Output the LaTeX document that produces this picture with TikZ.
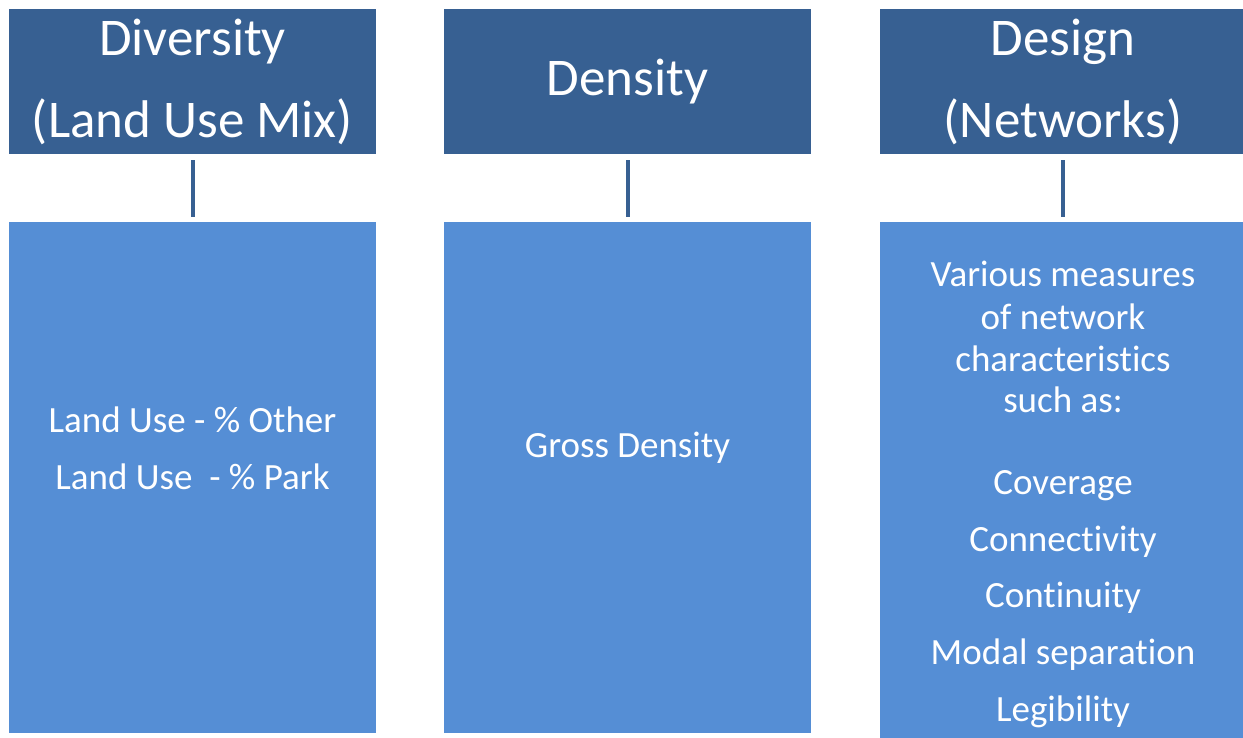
\documentclass[tikz,border=0pt]{standalone}
\usepackage{fontspec}
\setmainfont[Ligatures=NoCommon]{Carlito}
\definecolor{headblue}{RGB}{55,96,146}
\definecolor{bodyblue}{RGB}{85,142,213}
\begin{document}
\begin{tikzpicture}[x=1pt,y=-1pt,
  headbox/.style={fill=headblue,draw=none,inner sep=0pt,anchor=north west},
  bodybox/.style={fill=bodyblue,draw=none,inner sep=0pt,anchor=north west},
  headtxt/.style={text=white,font=\fontsize{53}{64}\selectfont,anchor=base,inner sep=0pt},
  bodytxt/.style={text=white,font=\fontsize{37}{44}\selectfont,anchor=base,inner sep=0pt},
  link/.style={draw=headblue,line width=4pt,shorten <=6pt,shorten >=5pt}]
\useasboundingbox (0,0) rectangle (1243,737);

% header boxes
\node[headbox,minimum width=367pt,minimum height=145pt] (h1) at (9,9) {};
\node[headbox,minimum width=367pt,minimum height=145pt] (h2) at (444,9) {};
\node[headbox,minimum width=366pt,minimum height=145pt] (h3) at (880,9) {};

% body boxes
\node[bodybox,minimum width=367pt,minimum height=511pt] (b1) at (9,222) {};
\node[bodybox,minimum width=367pt,minimum height=511pt] (b2) at (444,222) {};
\node[bodybox,minimum width=366pt,minimum height=520pt] (b3) at (880,222) {};

% connectors
\draw[link] (h1.south) -- (b1.north);
\draw[link] (h2.south) -- (b2.north);
\draw[link] (h3.south) -- (b3.north);

% header texts
\node[headtxt] (t1a) at (192.5,55) {Diversity};
\node[headtxt] (t1b) at (192.5,137) {(Land Use Mix)};
\node[headtxt] (t2a) at (627.5,95) {Density};
\node[headtxt] (t3a) at (1063,55) {Design};
\node[headtxt] (t3b) at (1063,137) {(Networks)};

% body texts
\node[bodytxt] (d1a) at (192.5,432) {Land Use - \% Other};
\node[bodytxt] (d1b) at (192.5,489) {Land Use\ \ - \% Park};
\node[bodytxt] (d2a) at (627.5,457) {Gross Density};
\node[bodytxt] (d3a) at (1063,286) {Various measures};
\node[bodytxt] (d3b) at (1063,329) {of network};
\node[bodytxt] (d3c) at (1063,371) {characteristics};
\node[bodytxt] (d3d) at (1063,412) {such as:};
\node[bodytxt] (d3e) at (1063,494) {Coverage};
\node[bodytxt] (d3f) at (1063,551) {Connectivity};
\node[bodytxt] (d3g) at (1063,607) {Continuity};
\node[bodytxt] (d3h) at (1063,664) {Modal separation};
\node[bodytxt] (d3i) at (1063,721) {Legibility};
\end{tikzpicture}
\end{document}
